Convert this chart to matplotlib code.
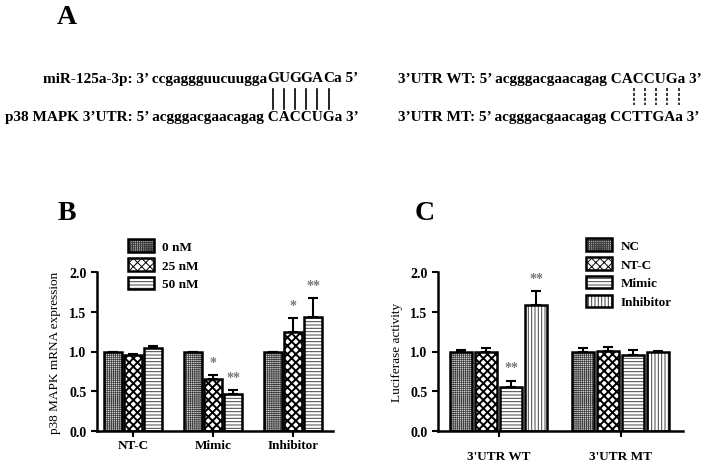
import numpy as np
import matplotlib as mpl
from matplotlib import pyplot as plt
import matplotlib.patches as mpatches

plt.rcParams['font.family'] = ['Liberation Serif', 'DejaVu Serif']
plt.rcParams['font.weight'] = 'bold'
plt.rcParams['hatch.linewidth'] = 0.7

# Panel A sequences
a_mir = 'miR-125a-3p: 3\u2019 ccgaggguucuugga'
a_mir_seed = 'GUGGAC'
a_mir_end = 'a 5\u2019'
a_p38 = 'p38 MAPK 3\u2019UTR: 5\u2019 acgggacgaacagag CACCUGa 3\u2019'
a_wt = '3\u2019UTR WT: 5\u2019 acgggacgaacagag CACCUGa 3\u2019'
a_mt = '3\u2019UTR MT: 5\u2019 acgggacgaacagag CCTTGAa 3\u2019'

# Panel B: p38 MAPK mRNA expression
b_groups = ['NT-C', 'Mimic', 'Inhibitor']
b_series = ['0 nM', '25 nM', '50 nM']
b_means = [[1.00, 1.00, 1.00], [0.96, 0.66, 1.25], [1.04, 0.46, 1.43]]
b_errs = [[0.0, 0.0, 0.0], [0.01, 0.04, 0.17], [0.03, 0.05, 0.24]]
b_stars = [['', '', ''], ['', '*', '*'], ['', '**', '**']]

# Panel C: luciferase activity
c_groups = ["3'UTR WT", "3'UTR MT"]
c_series = ['NC', 'NT-C', 'Mimic', 'Inhibitor']
c_means = [[1.00, 1.00], [1.00, 1.01], [0.55, 0.96], [1.59, 0.99]]
c_errs = [[0.02, 0.05], [0.04, 0.05], [0.08, 0.06], [0.17, 0.02]]
c_stars = [['', ''], ['', ''], ['**', ''], ['**', '']]

# fill styles
styles = {
	'fine':    {'facecolor': '#d4d4d4', 'hatch': '++++++++', 'hatchcolor': '#3a3a3a', 'lw': 0.5},
	'checker': {'facecolor': 'white', 'hatch': 'xxxx', 'hatchcolor': 'black', 'lw': 1.4},
	'hlines':  {'facecolor': 'white', 'hatch': '-----', 'hatchcolor': '#444444', 'lw': 0.7},
	'vlines':  {'facecolor': 'white', 'hatch': '|||||', 'hatchcolor': '#444444', 'lw': 0.7},
}
b_fill = ['fine', 'checker', 'hlines']
c_fill = ['fine', 'checker', 'hlines', 'vlines']

W, H = 710, 464
fig = plt.figure(figsize=(W / 100, H / 100), dpi=100)
renderer = fig.canvas.get_renderer()

def fx(px):
	return px / W

def fy(py):
	return 1 - py / H

def width(s, fs):
	t = fig.text(0, 0, s, fontsize=fs)
	w = t.get_window_extent(renderer).width
	t.remove()
	return w

def char_edges(line, x0, idx, fs):
	# left/right pixel edges of character idx in line drawn from x0
	r = x0 + width(line[:idx + 1], fs)
	l = r - width(line[idx], fs)
	return l, r

fs_seq = 11

# Panel A
fig.text(fx(67), fy(17), 'A', fontsize=20, ha='center', va='center')

x0 = 5
fig.text(fx(x0), fy(117), a_p38, fontsize=fs_seq, ha='left', va='center')
start = a_p38.index('CACCUG')
centers = []
for k in range(6):
	l, r = char_edges(a_p38, x0, start + k, fs_seq)
	centers.append((l + r) / 2)
for c, ch in zip(centers, a_mir_seed):
	fig.text(fx(c), fy(79), ch, fontsize=fs_seq, ha='center', va='center')
fig.text(fx(centers[0] - width('G', fs_seq) / 2 - 0.5), fy(79), a_mir, fontsize=fs_seq, ha='right', va='center')
fig.text(fx(centers[-1] + width('C', fs_seq) / 2), fy(79), a_mir_end, fontsize=fs_seq, ha='left', va='center')
for c in centers:
	fig.add_artist(plt.Line2D([fx(c), fx(c)], [fy(90), fy(110)], color='black', lw=1.2))

x1 = 398
fig.text(fx(x1), fy(80), a_wt, fontsize=fs_seq, ha='left', va='center')
fig.text(fx(x1), fy(117), a_mt, fontsize=fs_seq, ha='left', va='center')
start = a_wt.index('CACCUG')
for k in range(1, 6):
	l, r = char_edges(a_wt, x1, start + k, fs_seq)
	fig.add_artist(plt.Line2D([fx(r + 1.5), fx(r + 1.5)], [fy(89), fy(106)], color='black', lw=1.1, ls=(0, (2, 1.2))))


def fill_patch(st, **kw):
	with mpl.rc_context({'hatch.linewidth': st['lw']}):
		p = mpatches.Rectangle((0, 0), 1, 1, facecolor=st['facecolor'], edgecolor=st['hatchcolor'], hatch=st['hatch'], linewidth=0, **kw)
	if hasattr(p, 'set_hatch_linewidth'):
		p.set_hatch_linewidth(st['lw'])
	return p


def bars(ax, groups, series, means, errs, stars, fills, step, bw):
	n = len(series)
	xc = np.arange(len(groups))
	for i in range(n):
		xs = xc + (i - (n - 1) / 2) * step
		st = styles[fills[i]]
		with mpl.rc_context({'hatch.linewidth': st['lw']}):
			cont = ax.bar(xs, means[i], bw, color=st['facecolor'], edgecolor=st['hatchcolor'], hatch=st['hatch'], linewidth=0, zorder=2)
		for p in cont:
			if hasattr(p, 'set_hatch_linewidth'):
				p.set_hatch_linewidth(st['lw'])
		ax.bar(xs, means[i], bw, fill=False, edgecolor='black', linewidth=1.8, zorder=3)
		ax.errorbar(xs, means[i], yerr=[np.zeros(len(groups)), errs[i]], fmt='none', ecolor='black', elinewidth=1.5, capsize=3.5, capthick=1.5, zorder=1)
		for x, m, e, s in zip(xs, means[i], errs[i], stars[i]):
			if s:
				ax.text(x, m + e + 0.12, s, ha='center', va='baseline', fontsize=10, color='#777777')
	ax.set_ylim(0, 2.0)
	ax.set_yticks(np.arange(0, 2.01, 0.5))
	ax.set_yticklabels(['%.1f' % v for v in np.arange(0, 2.01, 0.5)], fontsize=10)
	ax.set_xticks(xc)
	ax.set_xticklabels(groups, fontsize=9.5)
	for sp in ['top', 'right']:
		ax.spines[sp].set_visible(False)
	for sp in ['left', 'bottom']:
		ax.spines[sp].set_linewidth(1.8)
	ax.tick_params(direction='out', length=4, width=1.5)


def handles(series, fills):
	hs = []
	for s, f in zip(series, fills):
		st = styles[f]
		outline = mpatches.Patch(fill=False, edgecolor='black', linewidth=1.8)
		hs.append((fill_patch(st), outline))
	return hs

legend_kw = dict(loc='upper left', frameon=False, fontsize=9.5, handlelength=2.0, handleheight=1.1,
	labelspacing=0.38, handletextpad=0.6, borderpad=0, borderaxespad=0)

# Panel B
axb = fig.add_axes([fx(97), fy(432), (333 - 97) / W, (432 - 273) / H])
bars(axb, b_groups, b_series, b_means, b_errs, b_stars, b_fill, 0.25, 0.23)
axb.set_xlim(-0.45, 2.5)
axb.tick_params(axis='x', pad=2)
axb.set_ylabel('p38 MAPK mRNA expression', fontsize=9.5, labelpad=6)
fig.text(fx(67), fy(214), 'B', fontsize=20, ha='center', va='center')
fig.legend(handles(b_series, b_fill), b_series, bbox_to_anchor=(fx(128), fy(240)), **legend_kw)

# Panel C
axc = fig.add_axes([fx(438), fy(432), (683 - 438) / W, (432 - 273) / H])
bars(axc, c_groups, c_series, c_means, c_errs, c_stars, c_fill, 0.205, 0.18)
axc.set_xlim(-0.5, 1.51)
axc.tick_params(axis='x', pad=10)
axc.set_ylabel('Luciferase activity', fontsize=9.5, labelpad=5)
fig.text(fx(425), fy(214), 'C', fontsize=20, ha='center', va='center')
fig.legend(handles(c_series, c_fill), c_series, bbox_to_anchor=(fx(586), fy(239)), **legend_kw)

fig.savefig('out.png', dpi=100)
